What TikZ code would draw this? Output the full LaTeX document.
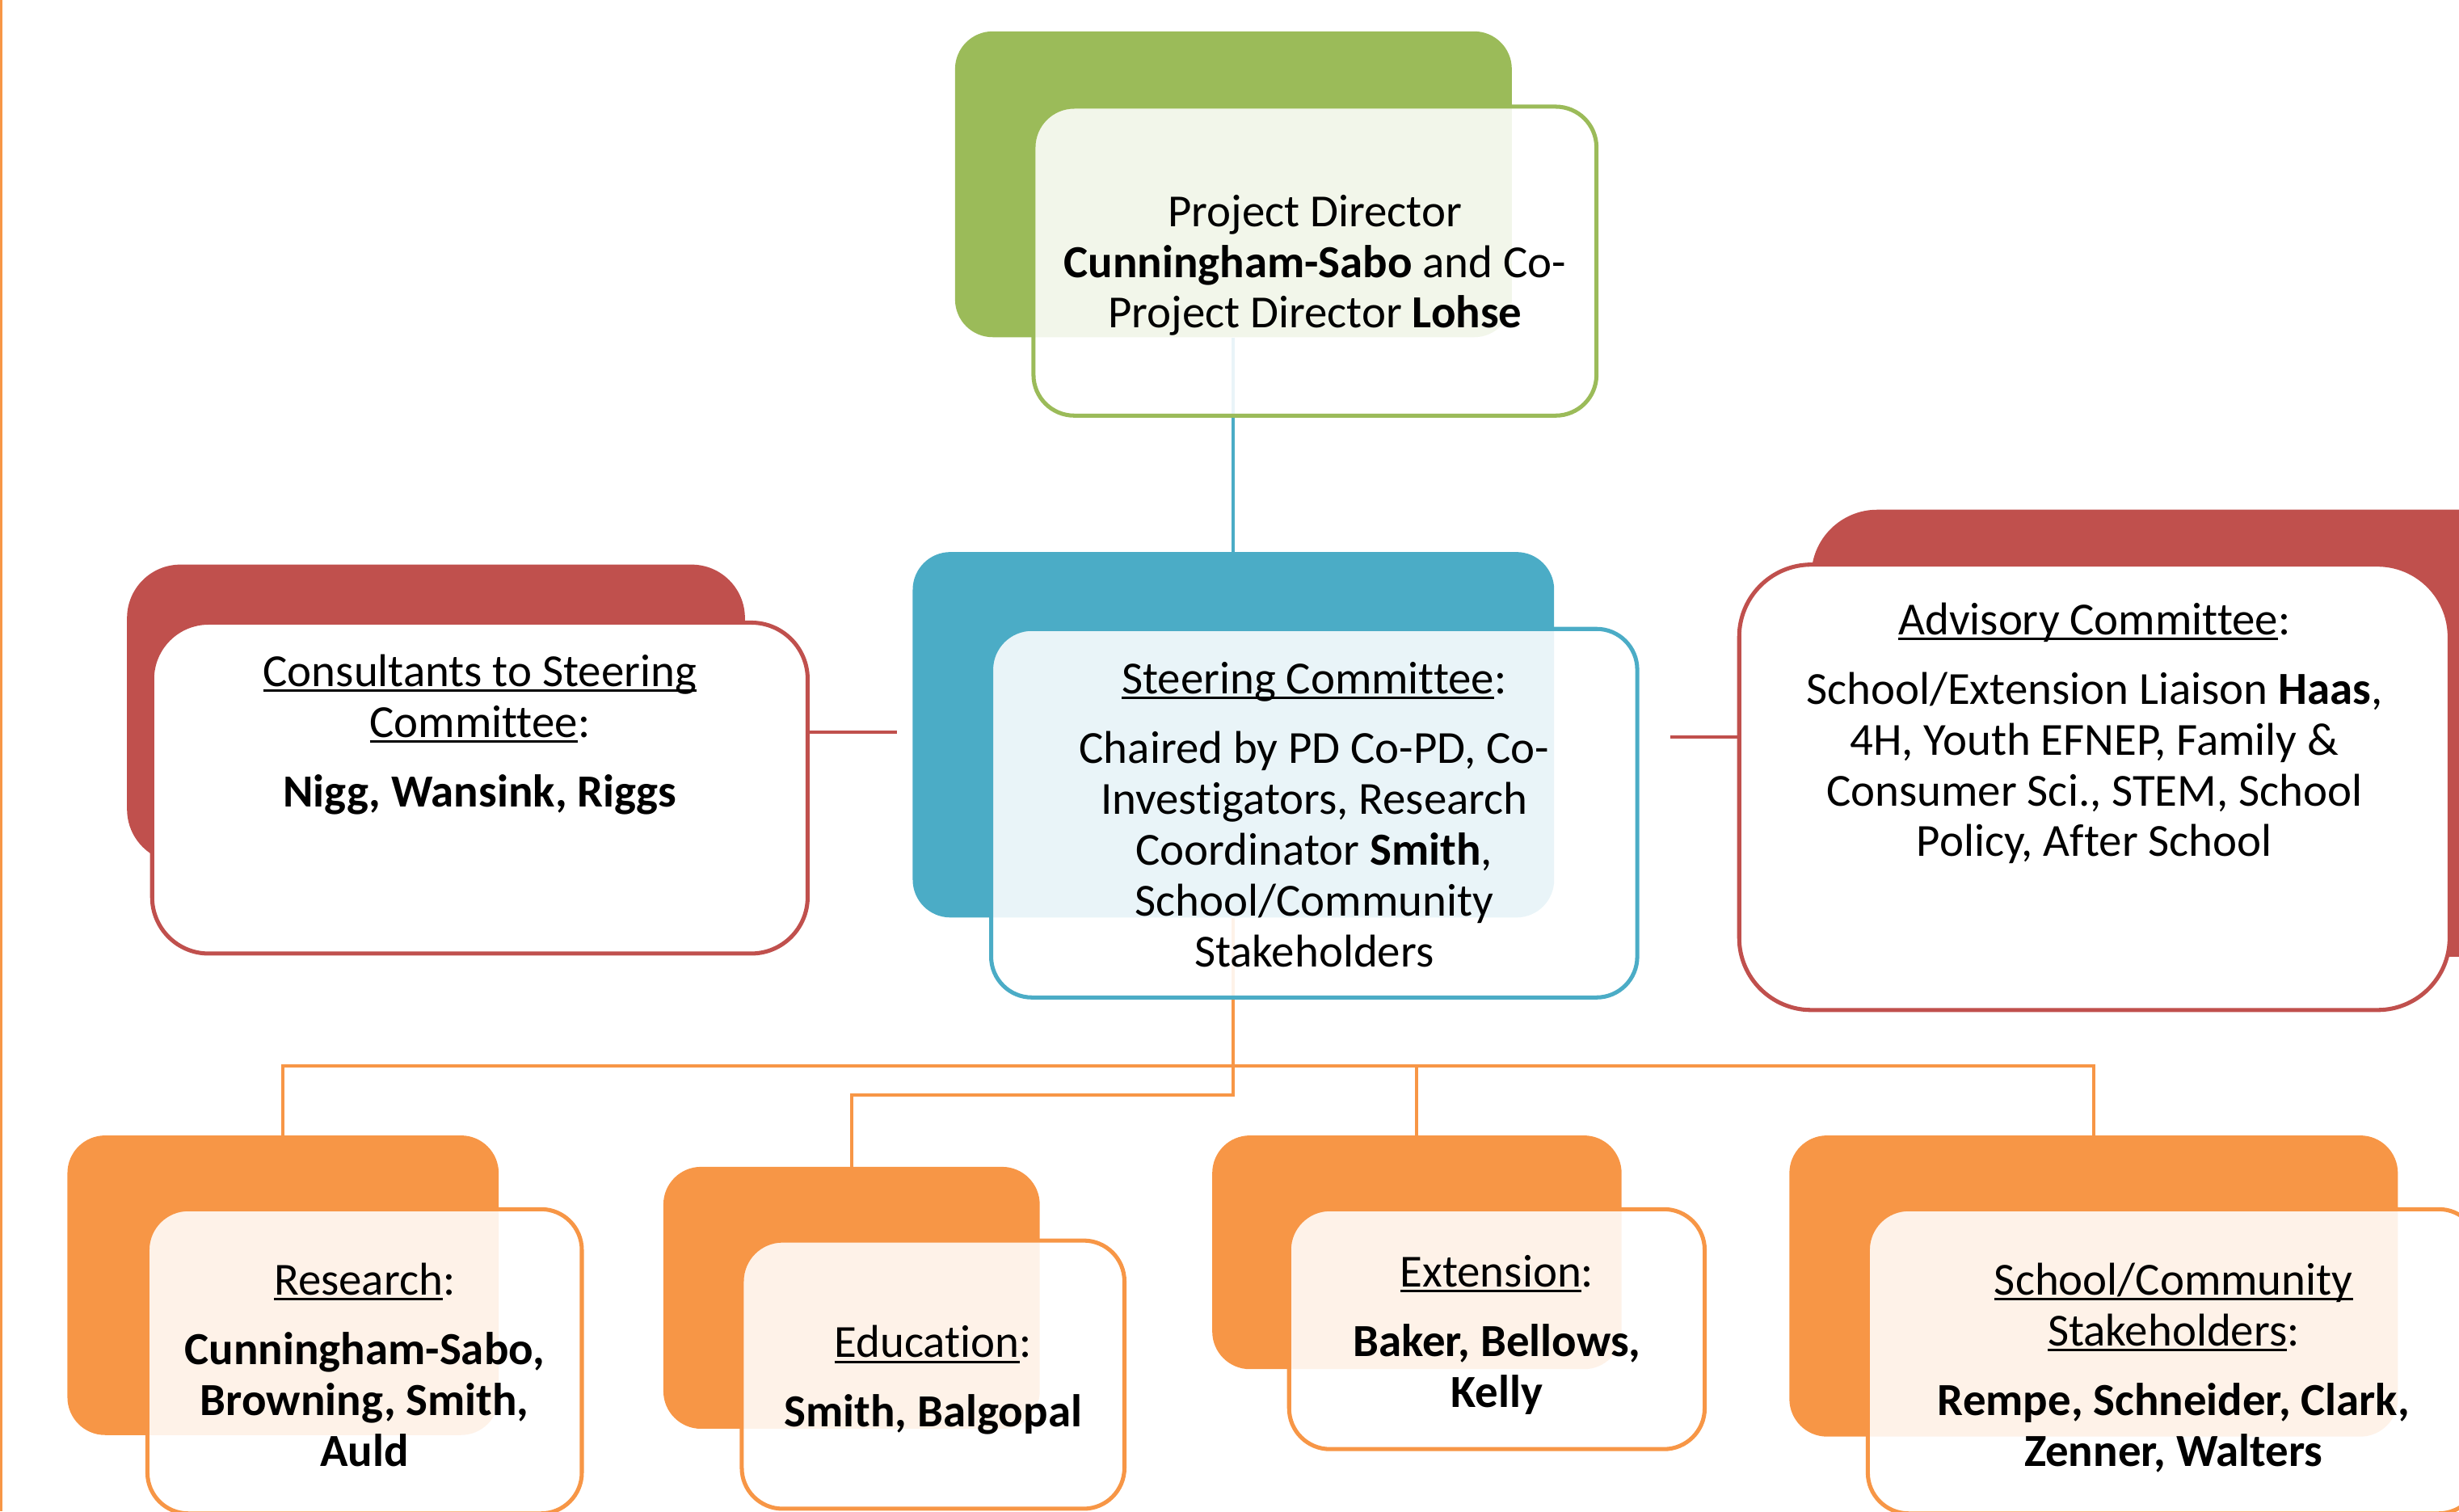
\documentclass[tikz,border=0pt]{standalone}
\usepackage{fontspec}
\setmainfont{Carlito}[Ligatures=NoCommon]
\definecolor{cgreen}{HTML}{9BBB59}
\definecolor{cblue}{HTML}{4BACC6}
\definecolor{cred}{HTML}{C0504D}
\definecolor{corange}{HTML}{F79646}
\newcommand{\ulx}[1]{\setbox0\hbox{#1}\rlap{\rule[-3.5pt]{\wd0}{1.5pt}}\box0}
\begin{document}
\begin{tikzpicture}[x=1pt,y=-1pt,
  backbox/.style={draw=none, rounded corners=24pt, inner sep=0pt},
  frontbox/.style={line width=2.6pt, fill=white, fill opacity=0.88, rounded corners=26pt, inner sep=0pt},
  redfront/.style={line width=2.6pt, draw=cred, fill=white, rounded corners=36pt, inner sep=0pt},
  conn/.style={line width=2pt},
  txt/.style={font=\fontsize{29.3}{32.4}\selectfont, align=center, inner sep=0pt, anchor=north}]
\useasboundingbox (0,0) rectangle (1568,963.6);
\clip (0,0) rectangle (1568,963.6);
% thin left edge line
\draw[corange, line width=1.5pt] (1,0) -- (1,963.6);
% back boxes
\node[backbox, fill=cgreen, minimum width=355pt, minimum height=195pt] (pdB) at (786.5,117.5) {};
\node[backbox, fill=cblue, minimum width=409pt, minimum height=233pt] (scB) at (786.5,468.5) {};
\node[backbox, fill=cred, rounded corners=34pt, minimum width=394pt, minimum height=190pt] (coB) at (278,455) {};
\node[backbox, fill=cred, rounded corners=42pt, minimum width=455pt, minimum height=285pt] (adB) at (1382.5,467.5) {};
\node[backbox, fill=corange, minimum width=275pt, minimum height=191pt] (reB) at (180.5,819.5) {};
\node[backbox, fill=corange, minimum width=240pt, minimum height=167pt] (edB) at (543,827.5) {};
\node[backbox, fill=corange, minimum width=261pt, minimum height=149pt] (exB) at (903.5,798.5) {};
\node[backbox, fill=corange, minimum width=388pt, minimum height=192pt] (shB) at (1335,820) {};
% connectors
\draw[conn, cblue] (pdB.south) -- (scB.north);
\draw[conn, corange] (scB.south) -- ++(0,113) -| (edB.north);
\draw[conn, corange] (reB.north) -- ++(0,-44) -| (shB.north);
\draw[conn, corange] (exB.north) -- ++(0,-44);
% front boxes
\node[frontbox, draw=cgreen, minimum width=359pt, minimum height=197pt] (pdF) at (838.5,166.5) {};
\node[frontbox, draw=cblue, minimum width=412pt, minimum height=235pt] (scF) at (838,518.5) {};
\node[redfront, minimum width=418pt, minimum height=211pt] (coF) at (306,502.5) {};
\node[redfront, rounded corners=46pt, minimum width=453pt, minimum height=284pt] (adF) at (1335.5,502) {};
\node[frontbox, draw=corange, minimum width=277pt, minimum height=194pt] (reF) at (232.5,868) {};
\node[frontbox, draw=corange, minimum width=244pt, minimum height=171pt] (edF) at (595,876.5) {};
\node[frontbox, draw=corange, minimum width=265pt, minimum height=153pt] (exF) at (954.5,847.5) {};
\node[frontbox, draw=corange, minimum width=390pt, minimum height=194pt] (shF) at (1386,868) {};
% red connectors
\coordinate (coEnd) at (572,467);
\coordinate (adStart) at (1065,470);
\draw[conn, cred] (coF.east |- coEnd) -- (coEnd);
\draw[conn, cred] (adStart) -- (adF.west |- adStart);
% texts
\node[txt] (pdT) at (838.5,124) {Project Director\\\textbf{Cunningham-Sabo} and Co-\\Project Director \textbf{Lohse}};
\node[txt] (scT) at (838,422) {\ulx{Steering Committee}:\\[12pt]Chaired by PD Co-PD, Co-\\Investigators, Research\\Coordinator \textbf{Smith},\\School/Community\\Stakeholders};
\node[txt] (coT) at (306,417) {\ulx{Consultants to Steering}\\\ulx{Committee}:\\[12pt]\textbf{Nigg, Wansink, Riggs}};
\node[txt] (adT) at (1335.5,384) {\ulx{Advisory Committee}:\\[12pt]School/Extension Liaison \textbf{Haas},\\4H, Youth EFNEP, Family \&\\Consumer Sci., STEM, School\\Policy, After School};
\node[txt] (reT) at (232.5,805) {\ulx{Research}:\\[12pt]\textbf{Cunningham-Sabo,}\\\textbf{Browning, Smith,}\\\textbf{Auld}};
\node[txt] (edT) at (595,845) {\ulx{Education}:\\[12pt]\textbf{Smith, Balgopal}};
\node[txt] (exT) at (954.5,800) {\ulx{Extension}:\\[12pt]\textbf{Baker, Bellows,}\\\textbf{Kelly}};
\node[txt] (shT) at (1386,805) {\ulx{School/Community}\\\ulx{Stakeholders}:\\[12pt]\textbf{Rempe, Schneider, Clark,}\\\textbf{Zenner, Walters}};
\end{tikzpicture}
\end{document}
